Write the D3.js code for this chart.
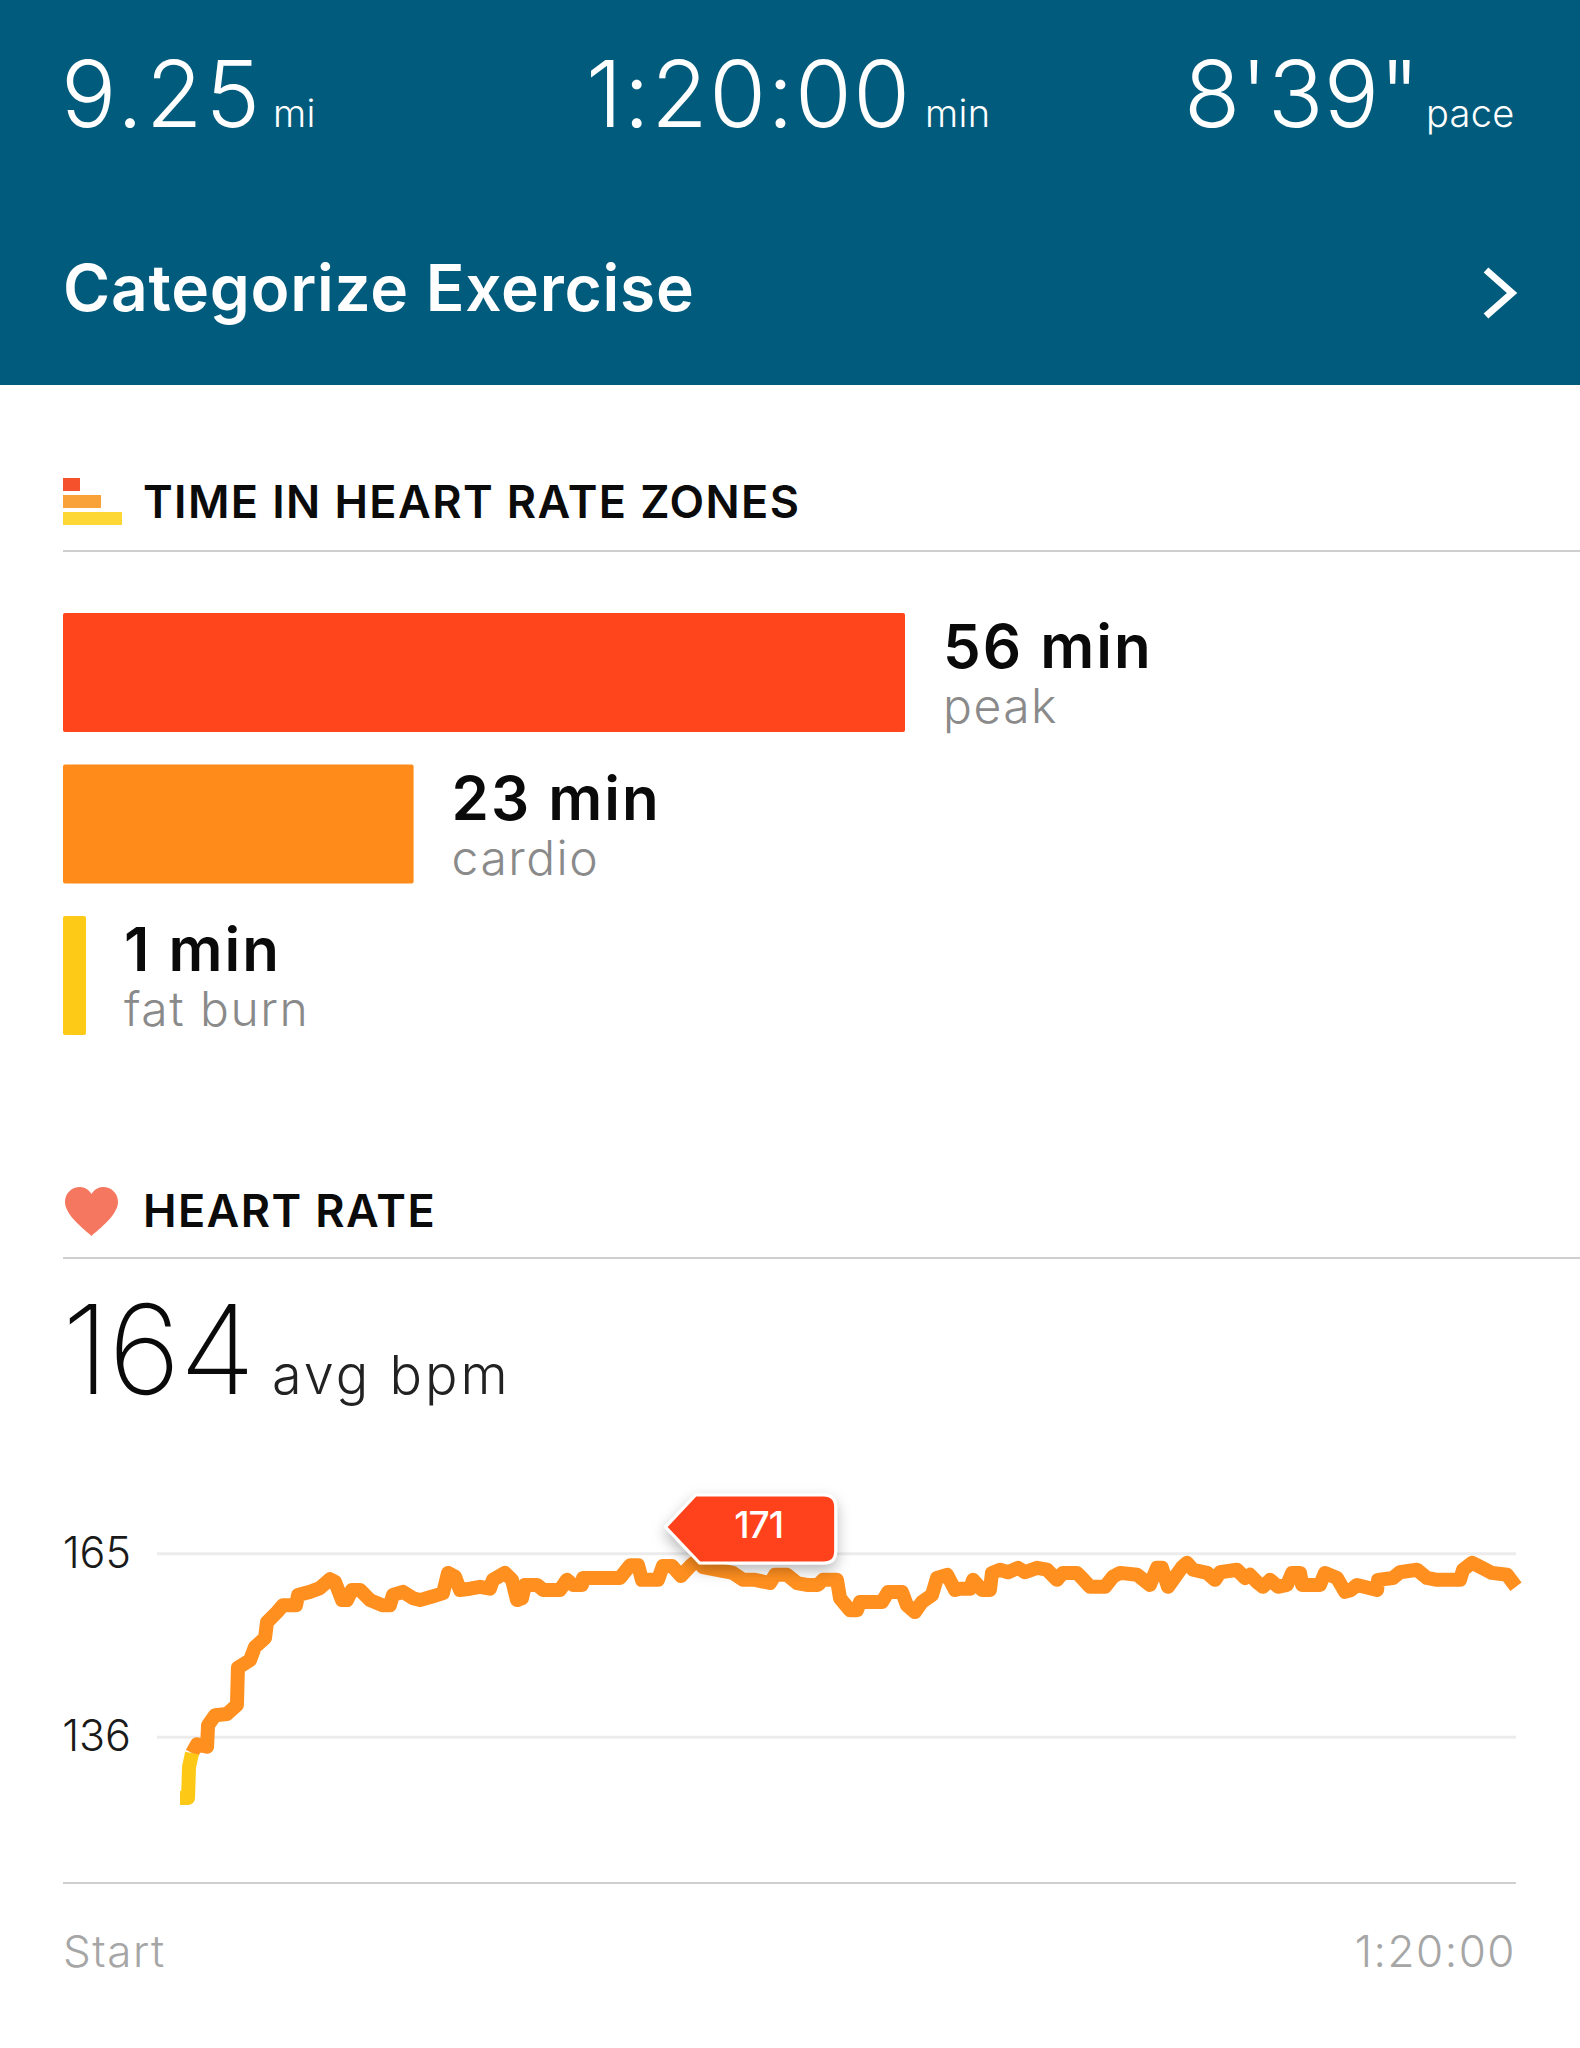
<!DOCTYPE html>
<html>
<head>
<meta charset="utf-8">
<script src="https://cdn.jsdelivr.net/npm/d3@7"></script>
<style>
  html, body { margin: 0; padding: 0; background: #fff; }
  svg { display: block; }
  text { font-family: Inter, Lato, "Noto Sans", sans-serif; }
  .stat { font-size: 92px; font-weight: 300; fill: #fff; }
  .unit { font-size: 38px; font-weight: 300; fill: #fff; letter-spacing: 0.3px; }
  .title { font-size: 45px; font-weight: 600; fill: #0b0b0b; letter-spacing: 1.4px; }
  .zone-min { font-size: 60px; font-weight: 600; fill: #0a0a0a; letter-spacing: 2px; }
  .zone-name { font-size: 48px; font-weight: 300; fill: #8a8a8a; letter-spacing: 1.5px; }
  .hr-tick { font-size: 43px; font-weight: 300; fill: #1a1a1a; }
  .axis-end { font-size: 44px; font-weight: 300; fill: #a6a6a6; letter-spacing: 1.5px; }
</style>
</head>
<body>
<svg id="chart"></svg>
<script>
// header numbers
var statValues = ["9.25", "1:20:00", "8'39\""];
var statUnits = ["mi", "min", "pace"];

// time in zones
var zoneNames = ["peak", "cardio", "fat burn"];
var zoneMinutes = [56, 23, 1];
var zoneColors = ["#ff451b", "#ff8c1a", "#fdcb17"];

// heart rate line
var hrMinutes = [0, 0.48, 0.54, 0.72, 1.02, 1.62, 1.68, 2.1, 2.81, 3.41, 3.47, 4.19, 4.49, 5.09, 5.21, 5.81, 6.17, 6.95, 7.07, 7.78,
  8.38, 8.98, 9.28, 9.7, 10, 10.3, 10.78, 11.38, 12.1, 12.57, 12.75, 13.35, 13.95, 14.37, 15.15, 15.75, 16.05, 16.47, 16.77, 17.37,
  17.96, 18.56, 18.74, 19.46, 19.88, 20.18, 20.48, 20.66, 21.38, 21.74, 22.75, 23.17, 23.53, 24.07, 24.13, 26.35, 26.95, 27.43, 27.66, 28.62,
  28.92, 29.46, 30, 30.6, 30.96, 31.32, 32.16, 33.11, 33.71, 34.43, 35.33, 35.63, 36.35, 36.95, 37.54, 38.2, 38.5, 39.34, 39.52, 40.12,
  40.54, 40.72, 42.04, 42.4, 43.23, 43.53, 44.01, 44.43, 45.03, 45.33, 45.93, 46.41, 46.71, 47.31, 47.49, 48.02, 48.5, 48.62, 49.1, 49.58,
  50.18, 50.6, 51.32, 51.92, 52.51, 52.87, 53.71, 54.01, 54.49, 55.39, 55.87, 56.29, 57.31, 58.08, 58.5, 58.8, 59.16, 59.46, 60, 60.3,
  60.66, 61.5, 61.98, 62.28, 63.29, 63.77, 64.07, 64.55, 64.85, 65.27, 65.75, 66.29, 66.59, 67.07, 67.19, 68.26, 68.56, 69.28, 69.76, 70.12,
  70.48, 71.68, 71.74, 72.63, 73.05, 74.07, 74.67, 75.27, 76.65, 76.83, 77.37, 77.96, 78.56, 79.46, 80];
var hrValues = [126.3, 126.3, 131.2, 133.4, 134.8, 134.4, 137.8, 139.4, 139.6, 141, 146.9, 148.1, 150.2, 151.6, 154.1, 155.7, 156.8, 156.8, 158.4, 158.9,
  159.5, 160.9, 160.5, 157.6, 157.6, 159.2, 159.2, 157.6, 156.8, 156.8, 158.4, 158.9, 157.9, 157.6, 158.2, 158.7, 161.9, 161.3, 159.2, 159.4,
  159.7, 159.4, 160.8, 161.9, 160.8, 157.6, 157.9, 160, 160, 159.2, 159.2, 160.8, 160, 160, 161.1, 161.1, 163.1, 163.1, 160.8, 160.8,
  163, 163, 161.4, 163.1, 163.9, 162.8, 162.4, 161.9, 160.8, 160.8, 160.3, 161.6, 161.6, 160.3, 160, 160, 160.8, 160.8, 157.9, 156,
  156, 157.3, 157.3, 158.9, 158.9, 156.8, 155.7, 157.3, 158.4, 161.1, 161.6, 159.2, 159.4, 159.4, 160.8, 159.2, 159.2, 161.9, 162.4, 162,
  162.7, 162, 162.7, 162.4, 160.8, 161.9, 161.9, 161.1, 159.7, 159.7, 161.3, 161.9, 161.6, 160, 162.7, 162.7, 159.7, 160.8, 162.8, 163.5,
  162.4, 161.9, 160.8, 162, 162.4, 161.1, 161.6, 160.3, 159.7, 160.8, 159.7, 160, 161.9, 161.9, 160, 160, 161.9, 161.1, 158.9, 159.2,
  160, 159.2, 160.8, 161.1, 162, 162.4, 161.1, 160.8, 160.8, 162.4, 163.5, 162.7, 161.9, 161.6, 159.7];
var hrTicks = [165, 136];
var timeLabels = ["Start", "1:20:00"];
var peakBpm = 171;
var peakMinute = 29.08;
var fatBurnEnd = 0.72;

var hrData = hrMinutes.map(function(m, i) { return {m: m, bpm: hrValues[i]}; });

var svg = d3.select("#chart")
  .attr("width", 1580)
  .attr("height", 2048)
  .attr("viewBox", "0 0 1580 2048");

// shadow under the peak tag
var filter = svg.append("defs").append("filter")
  .attr("id", "tagShadow")
  .attr("x", "-20%").attr("y", "-30%")
  .attr("width", "140%").attr("height", "170%");
filter.append("feDropShadow")
  .attr("dx", 0).attr("dy", 6)
  .attr("stdDeviation", 7)
  .attr("flood-color", "#000")
  .attr("flood-opacity", 0.28);

/* ---------- header ---------- */
svg.append("rect")
  .attr("width", 1580).attr("height", 385)
  .attr("fill", "#015b7c");

var statX = [61, 586, 1184];
var statSpacing = [3, 1.5, 0.3];
var unitX = [273, 925, 1426];
statValues.forEach(function(s, i) {
  svg.append("text").attr("class", "stat").attr("x", statX[i]).attr("y", 127)
    .style("letter-spacing", statSpacing[i] + "px").text(s);
  svg.append("text").attr("class", "unit").attr("x", unitX[i]).attr("y", 127).text(statUnits[i]);
});

svg.append("text")
  .attr("x", 63).attr("y", 311)
  .attr("fill", "#fff")
  .style("font-size", "64px").style("font-weight", 600).style("letter-spacing", "0.75px")
  .text("Categorize Exercise");

svg.append("path")
  .attr("d", "M1486,270 L1512,293 L1486,316")
  .attr("fill", "none").attr("stroke", "#fff").attr("stroke-width", 7);

/* ---------- zones ---------- */
var iconW = [17, 38, 59];
var iconY = [478, 495, 512];
iconW.forEach(function(w, i) {
  svg.append("rect")
    .attr("x", 63).attr("y", iconY[i])
    .attr("width", w).attr("height", 13)
    .attr("fill", ["#f4512c", "#f9a23a", "#fdd835"][i]);
});
svg.append("text").attr("class", "title").attr("x", 143).attr("y", 518).text("TIME IN HEART RATE ZONES");
svg.append("line")
  .attr("x1", 63).attr("x2", 1580).attr("y1", 551).attr("y2", 551)
  .attr("stroke", "#cfcfcf").attr("stroke-width", 2);

// bars have a minimum width, so the first stretch of the scale is steeper
var zoneX = d3.scaleLinear().domain([0, 1, 56]).range([63, 86, 905]);
var zoneY = d3.scaleBand().domain(zoneNames).range([613, 1035]).paddingInner(0.215);

var zone = svg.selectAll(".zone")
  .data(zoneNames)
  .enter().append("g")
    .attr("class", "zone");

zone.append("rect")
  .attr("x", zoneX(0))
  .attr("y", function(d) { return zoneY(d); })
  .attr("width", function(d, i) { return zoneX(zoneMinutes[i]) - zoneX(0); })
  .attr("height", zoneY.bandwidth())
  .attr("rx", 2)
  .attr("fill", function(d, i) { return zoneColors[i]; });

zone.append("text")
  .attr("class", "zone-min")
  .attr("x", function(d, i) { return zoneX(zoneMinutes[i]) + 38; })
  .attr("y", function(d) { return zoneY(d) + 55; })
  .text(function(d, i) { return zoneMinutes[i] + " min"; });

zone.append("text")
  .attr("class", "zone-name")
  .attr("x", function(d, i) { return zoneX(zoneMinutes[i]) + 38; })
  .attr("y", function(d) { return zoneY(d) + 110; })
  .text(function(d) { return d; });

/* ---------- heart rate ---------- */
svg.append("path")
  .attr("d", "M91.5,1236 C84,1229 65,1215 65,1202 C65,1193 72,1187 80,1187 C85,1187 89,1190 91.5,1194 C94,1190 98,1187 103,1187 C111,1187 118,1193 118,1202 C118,1215 99,1229 91.5,1236 Z")
  .attr("fill", "#f5775f");
svg.append("text").attr("class", "title").attr("x", 143).attr("y", 1227).text("HEART RATE");
svg.append("line")
  .attr("x1", 63).attr("x2", 1580).attr("y1", 1258).attr("y2", 1258)
  .attr("stroke", "#cfcfcf").attr("stroke-width", 2);

svg.append("text")
  .attr("x", 62).attr("y", 1394)
  .attr("fill", "#0a0a0a")
  .style("font-size", "124px").style("font-weight", 200).style("letter-spacing", "-1px")
  .text("164");
svg.append("text")
  .attr("x", 272).attr("y", 1394)
  .attr("fill", "#222")
  .style("font-size", "54px").style("font-weight", 300).style("letter-spacing", "3px")
  .text("avg bpm");

var x = d3.scaleLinear().domain([0, 80]).range([180, 1516]);
var y = d3.scaleLinear().domain([136, 165]).range([1736.7, 1553.3]);

// y axis, ticks double as the grid lines
var yAxis = d3.axisLeft(y)
  .tickValues(hrTicks)
  .tickSize(x(80) - 157)
  .tickPadding(26);

svg.append("g")
  .attr("transform", "translate(" + x(80) + ",0)")
  .call(yAxis)
  .call(function(g) {
    g.select(".domain").remove();
    g.selectAll(".tick line").attr("stroke", "#ececec").attr("stroke-width", 3);
    g.selectAll(".tick text").attr("class", "hr-tick").attr("fill", null);
  });

// bottom line and the two end labels
var xAxis = d3.axisBottom(x)
  .tickValues([])
  .tickSize(0);
svg.append("g")
  .attr("transform", "translate(0,1883)")
  .call(xAxis)
  .select(".domain")
    .attr("d", "M63,0H" + x(80))
    .attr("stroke", "#cfcfcf")
    .attr("stroke-width", 2);

svg.append("text").attr("class", "axis-end").attr("x", 63).attr("y", 1967).text(timeLabels[0]);
svg.append("text").attr("class", "axis-end").attr("x", x(80)).attr("y", 1967)
  .attr("text-anchor", "end").text(timeLabels[1]);

var line = d3.line()
  .x(function(d) { return x(d.m); })
  .y(function(d) { return y(d.bpm); })
  .curve(d3.curveLinear);

svg.append("path")
  .datum(hrData.filter(function(d) { return d.m >= fatBurnEnd; }))
  .attr("d", line)
  .attr("fill", "none")
  .attr("stroke", "#ff8f1f")
  .attr("stroke-width", 14)
  .attr("stroke-linejoin", "round");

svg.append("path")
  .datum(hrData.filter(function(d) { return d.m <= fatBurnEnd; }))
  .attr("d", line)
  .attr("fill", "none")
  .attr("stroke", "#fdc916")
  .attr("stroke-width", 14)
  .attr("stroke-linejoin", "round");

// peak tag, tip points at the peak minute
var tipX = x(peakMinute);
var tag = svg.append("g").attr("transform", "translate(" + tipX + ",1527)");
tag.append("path")
  .attr("d", "M0,0 L30,-32 H158 Q170,-32 170,-20 V24 Q170,36 158,36 H34 Z")
  .attr("fill", "#ff421b")
  .attr("stroke", "#fff")
  .attr("stroke-width", 3)
  .attr("stroke-linejoin", "round")
  .attr("filter", "url(#tagShadow)");
tag.append("text")
  .attr("x", 93).attr("y", 11)
  .attr("text-anchor", "middle")
  .attr("fill", "#fff")
  .style("font-size", "37px").style("font-weight", 500).style("letter-spacing", "-1px")
  .text(peakBpm);
</script>
</body>
</html>
